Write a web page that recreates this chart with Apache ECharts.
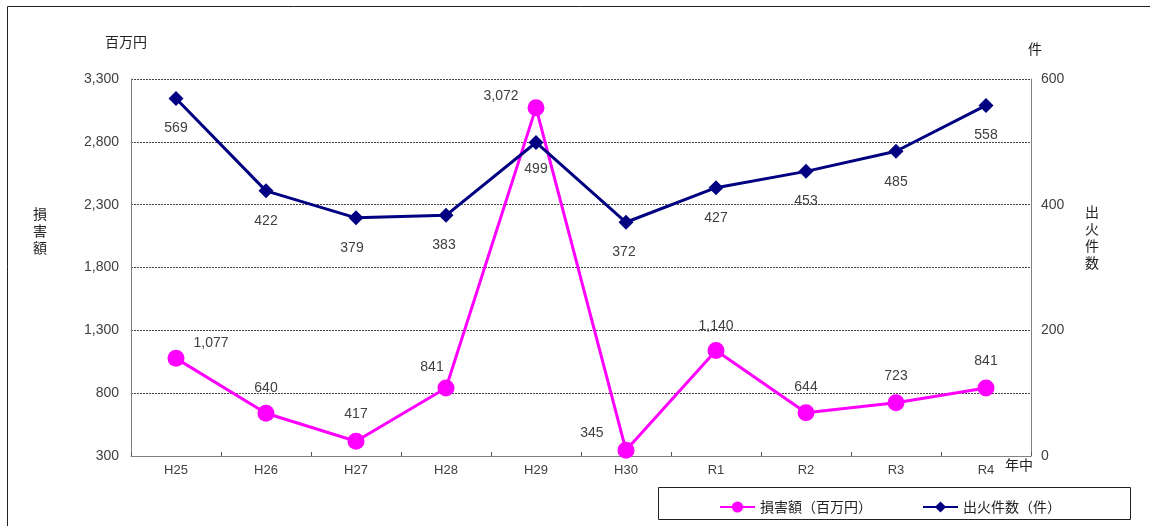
<!DOCTYPE html>
<html>
<head>
<meta charset="utf-8">
<script src="https://cdn.jsdelivr.net/npm/echarts@6/dist/echarts.min.js"></script>
<style>
html,body{margin:0;padding:0;background:#fff;}
#chart{width:1150px;height:526px;}
</style>
</head>
<body>
<div id="chart"></div>
<script>
const categories = ['H25','H26','H27','H28','H29','H30','R1','R2','R3','R4'];
const damage = [1077, 640, 417, 841, 3072, 345, 1140, 644, 723, 841];
const fires = [569, 422, 379, 383, 499, 372, 427, 453, 485, 558];
const leftTicks = {min: 300, max: 3300, interval: 500};
const rightTicks = {min: 0, max: 600, interval: 200};

// label placement (separate from values)
const damageLabelPlace = [
  ['top',[35,5]],['top',[0,-5]],['top',[0,-7]],['top',[-14,0]],['left',[-4,-12]],
  ['left',[-9,-17]],['top',[0,-4]],['top',[0,-5]],['top',[0,-6]],['top',[0,-6]]
];
const firesLabelPlace = [
  ['bottom',[0,10]],['bottom',[0,11]],['bottom',[-4,11]],['bottom',[-2,10]],['bottom',[0,7]],
  ['bottom',[-2,10]],['bottom',[0,11]],['bottom',[0,10]],['bottom',[0,11]],['bottom',[0,10]]
];

const fmt = v => Number(v).toLocaleString('en-US');
const FONT = '"Noto Sans CJK JP", "Noto Sans", sans-serif';
const NUMFONT = '"Liberation Sans", Arial, sans-serif';

const damageData = damage.map((v,i)=>({value:v,label:{position:damageLabelPlace[i][0],offset:damageLabelPlace[i][1]}}));
const firesData = fires.map((v,i)=>({value:v,label:{position:firesLabelPlace[i][0],offset:firesLabelPlace[i][1]}}));

const chart = echarts.init(document.getElementById('chart'));
chart.setOption({
  animation:false,
  backgroundColor:'#fff',
  grid:{left:131,right:119,top:79,bottom:70,containLabel:false},
  legend:{
    left:714, top:495, itemWidth:35, itemHeight:14, itemGap:50,
    textStyle:{fontFamily:FONT,fontSize:14,color:'#222'},
    data:['損害額（百万円）','出火件数（件）']
  },
  xAxis:{
    type:'category', data:categories, boundaryGap:true,
    axisLine:{lineStyle:{color:'#808080',width:1}},
    axisTick:{show:true,inside:true,length:4,alignWithLabel:false,lineStyle:{color:'#555'}},
    axisLabel:{color:'#404040',fontFamily:NUMFONT,fontSize:13,margin:8}
  },
  yAxis:[
    {type:'value',min:leftTicks.min,max:leftTicks.max,interval:leftTicks.interval,
     axisLine:{show:true,lineStyle:{color:'#808080'}},axisTick:{show:false},
     axisLabel:{color:'#404040',fontFamily:NUMFONT,fontSize:14,margin:12,formatter:fmt},
     splitLine:{show:true,lineStyle:{color:'#444',type:[2,1],width:1}}},
    {type:'value',min:rightTicks.min,max:rightTicks.max,interval:rightTicks.interval,position:'right',
     axisLine:{show:true,lineStyle:{color:'#808080'}},axisTick:{show:false},
     axisLabel:{color:'#404040',fontFamily:NUMFONT,fontSize:14,margin:10},
     splitLine:{show:false}}
  ],
  series:[
    {name:'損害額（百万円）',type:'line',yAxisIndex:0,data:damageData,
     symbol:'circle',symbolSize:17,
     itemStyle:{color:'#FF00FF'},lineStyle:{color:'#FF00FF',width:3},
     label:{show:true,formatter:p=>fmt(p.value),color:'#404040',fontFamily:NUMFONT,fontSize:14,distance:5}},
    {name:'出火件数（件）',type:'line',yAxisIndex:1,data:firesData,
     symbol:'diamond',symbolSize:15,
     itemStyle:{color:'#000080'},lineStyle:{color:'#000080',width:3},
     label:{show:true,formatter:p=>fmt(p.value),color:'#404040',fontFamily:NUMFONT,fontSize:14,distance:5}}
  ],
  graphic:[
    {type:'rect',shape:{x:7.5,y:6.5,width:1160,height:540},style:{fill:'none',stroke:'#222',lineWidth:1},silent:true},
    {type:'rect',shape:{x:658.5,y:487.5,width:472,height:32},style:{fill:'none',stroke:'#222',lineWidth:1},silent:true},
    {type:'text',left:105,top:35,style:{text:'百万円',font:'14px '+FONT,fill:'#222'}},
    {type:'text',left:1028,top:42,style:{text:'件',font:'14px '+FONT,fill:'#222'}},
    {type:'text',left:33,top:205,style:{text:'損\n害\n額',font:'14px '+FONT,fill:'#222',lineHeight:17}},
    {type:'text',left:1085,top:203,style:{text:'出\n火\n件\n数',font:'14px '+FONT,fill:'#222',lineHeight:17}},
    {type:'text',left:1005,top:458,style:{text:'年中',font:'14px '+FONT,fill:'#222'}}
  ]
});
</script>
</body>
</html>
